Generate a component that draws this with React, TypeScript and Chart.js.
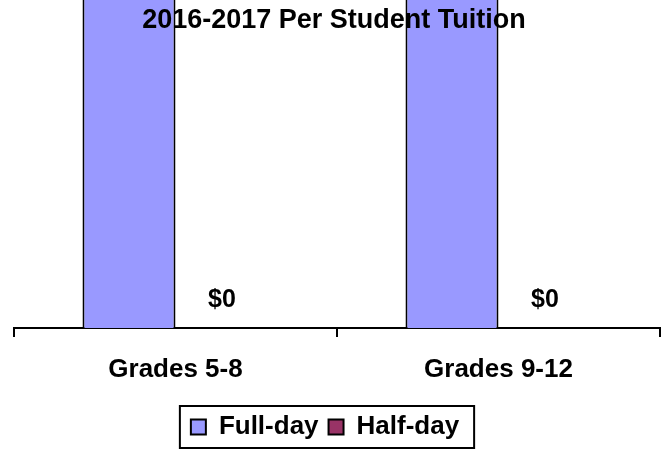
import React, { useEffect, useRef } from "react";
import { Chart, registerables } from "chart.js";

Chart.register(...registerables);

const categories = ["Grades 5-8", "Grades 9-12"];
const fullDay = [9850, 11200];
const halfDay = [0, 0];
const seriesNames = ["Full-day", "Half-day"];
const titleText = "2016-2017 Per Student Tuition";
const yMax = 1000;

const FONT = "'Liberation Sans', Arial, sans-serif";
const LEGEND_SHIFT = 12;

const overlayPlugin = {
  id: "overlay",
  beforeDraw(chart: any) {
    const lg = chart.legend;
    if (lg && !lg._shifted) {
      lg.left -= LEGEND_SHIFT;
      lg.right -= LEGEND_SHIFT;
      lg._shifted = true;
    }
  },
  afterDatasetsDraw(chart: any) {
    const ctx = chart.ctx;
    ctx.save();
    ctx.fillStyle = "#000";
    ctx.textAlign = "center";
    ctx.textBaseline = "middle";
    ctx.font = `bold 25px ${FONT}`;
    chart.data.datasets.forEach((ds: any, di: number) => {
      const meta = chart.getDatasetMeta(di);
      meta.data.forEach((bar: any, i: number) => {
        const v = ds.data[i];
        const txt = "$" + v.toLocaleString("en-US");
        ctx.fillText(txt, bar.x, bar.y - 28);
      });
    });
    ctx.font = `bold 27px ${FONT}`;
    ctx.fillText(titleText, chart.width / 2, 21);
    ctx.restore();
  },
  afterDraw(chart: any) {
    const lg = chart.legend;
    if (!lg || !lg.legendHitBoxes || !lg.legendHitBoxes.length) return;
    const boxes = lg.legendHitBoxes;
    const first = boxes[0];
    const last = boxes[boxes.length - 1];
    const cy = first.top + first.height / 2;
    const left = first.left - LEGEND_SHIFT - 11;
    const right = last.left + last.width - LEGEND_SHIFT + 15;
    const ctx = chart.ctx;
    ctx.save();
    ctx.strokeStyle = "#000";
    ctx.lineWidth = 2;
    ctx.strokeRect(left, cy - 21, right - left, 42);
    ctx.restore();
  },
};

export default function App() {
  const ref = useRef<HTMLCanvasElement | null>(null);
  useEffect(() => {
    document.body.style.margin = "0";
    if (!ref.current) return;
    const chart = new Chart(ref.current, {
      type: "bar",
      data: {
        labels: categories,
        datasets: [
          {
            label: seriesNames[0],
            data: fullDay,
            backgroundColor: "#9999ff",
            borderColor: "#000",
            borderWidth: 2,
          },
          {
            label: seriesNames[1],
            data: halfDay,
            backgroundColor: "#993366",
            borderColor: "#000",
            borderWidth: 2,
          },
        ],
      },
      options: {
        animation: false,
        responsive: false,
        layout: { padding: { left: 14, right: 8, top: 0, bottom: 0 } },
        datasets: { bar: { categoryPercentage: 0.576, barPercentage: 1 } },
        scales: {
          x: {
            grid: {
              display: true,
              offset: true,
              drawOnChartArea: false,
              drawTicks: true,
              tickLength: 9,
              color: "#000",
              lineWidth: 2,
            },
            border: { display: true, color: "#000", width: 2 },
            ticks: {
              color: "#000",
              font: { family: FONT, size: 26, weight: "bold" },
              padding: 17,
            },
            afterFit(scale: any) {
              scale.height = 76;
            },
          },
          y: { display: false, min: 0, max: yMax },
        },
        plugins: {
          title: { display: false },
          tooltip: { enabled: false },
          legend: {
            position: "bottom",
            labels: {
              color: "#000",
              boxWidth: 15,
              boxHeight: 15,
              padding: 10,
              font: { family: FONT, size: 26, weight: "bold" },
            },
          },
        },
      } as any,
      plugins: [overlayPlugin],
    });
    return () => chart.destroy();
  }, []);
  return <canvas ref={ref} width={668} height={450} style={{ display: "block" }} />;
}
